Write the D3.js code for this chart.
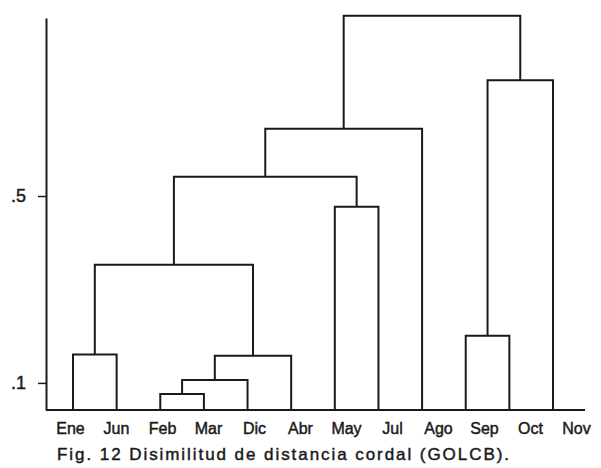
<html>

<head>
    <style>
        body { margin: 0; background: #fff; }
        text { font-family: "Liberation Sans", Arial, sans-serif; fill: #1a1a1a; stroke: #1a1a1a; stroke-width: 0.45px; }
    </style>
</head>

<body>
    <script src="https://d3js.org/d3.v7.min.js"></script>
    <script>
        // leaves, in dendrogram order
        var months = ['Ene', 'Jun', 'Feb', 'Mar', 'Dic', 'Abr', 'May', 'Jul', 'Ago', 'Sep', 'Oct', 'Nov'];
        // merges: node 12 + i joins mergeLeft[i] and mergeRight[i] at mergeHeight[i]
        var mergeLeft = [2, 12, 13, 0, 15, 6, 16, 18, 9, 20, 19];
        var mergeRight = [3, 4, 5, 1, 14, 7, 17, 8, 10, 11, 21];
        var mergeHeight = [0.076, 0.106, 0.158, 0.161, 0.353, 0.477, 0.541, 0.644, 0.201, 0.748, 0.886];
        var yTicks = [0.1, 0.5];
        var caption = 'Fig. 12 Disimilitud de distancia cordal (GOLCB).';

        var width = 601,
            height = 468,
            axisX = 46,
            baseRight = 585,
            ink = '#1a1a1a';

        var y = d3.scaleLinear().domain([0.042, 0.881]).range([410, 18]);
        var xLeaf = d3.scalePoint().domain(months).range([73, 553]);
        var xLabel = d3.scalePoint().domain(months).range([70, 576]);

        var svg = d3.select('body')
            .append('svg')
            .attr('width', width)
            .attr('height', height);

        // node positions: leaves sit on the baseline, merges at the mid of their children
        var nodes = months.map(m => ({ x: xLeaf(m), h: y.domain()[0] }));
        mergeLeft.forEach((l, i) => {
            var a = nodes[l], b = nodes[mergeRight[i]];
            nodes.push({ x: (a.x + b.x) / 2, h: mergeHeight[i], a: a, b: b });
        });

        // each merge: two legs and a crossbar
        var links = nodes.filter(n => n.a).map(n =>
            `M${n.a.x},${y(n.a.h)}V${y(n.h)}H${n.b.x}V${y(n.b.h)}`);

        svg.append('g')
            .selectAll('path')
            .data(links)
            .enter()
            .append('path')
            .attr('d', d => d)
            .attr('fill', 'none')
            .attr('stroke', ink)
            .attr('stroke-width', 2);

        // baseline
        svg.append('line')
            .attr('x1', axisX).attr('x2', baseRight)
            .attr('y1', y(y.domain()[0])).attr('y2', y(y.domain()[0]))
            .attr('stroke', ink).attr('stroke-width', 2);

        // Y axis
        var yAxis = svg.append('g')
            .attr('transform', `translate(${axisX},0)`)
            .call(d3.axisLeft(y).tickValues(yTicks).tickSize(8).tickSizeOuter(0).tickPadding(12)
                .tickFormat(d => d3.format('.1f')(d).replace(/^0/, '')));
        yAxis.attr('font-family', null);
        yAxis.select('.domain').attr('stroke', ink).attr('stroke-width', 2);
        yAxis.selectAll('.tick line').attr('stroke', ink).attr('stroke-width', 1.5);
        yAxis.selectAll('text').attr('font-size', 18).attr('fill', ink);

        // month labels
        var xAxis = svg.append('g')
            .attr('transform', `translate(0,${y(y.domain()[0])})`)
            .call(d3.axisBottom(xLabel).tickSize(0).tickPadding(13));
        xAxis.attr('font-family', null);
        xAxis.select('.domain').remove();
        xAxis.selectAll('text').attr('font-size', 16).attr('fill', ink);

        // caption
        svg.append('text')
            .attr('x', 57)
            .attr('y', 460)
            .attr('font-size', 17)
            .attr('textLength', 452)
            .attr('lengthAdjust', 'spacing')
            .text(caption);

    </script>
</body>

</html>
